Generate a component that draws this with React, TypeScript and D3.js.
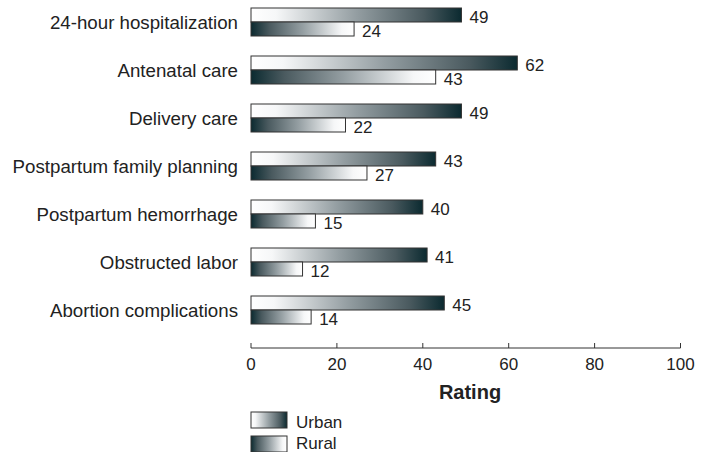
import React from "react";
import * as d3 from "d3";

const categories = [
  "24-hour hospitalization",
  "Antenatal care",
  "Delivery care",
  "Postpartum family planning",
  "Postpartum hemorrhage",
  "Obstructed labor",
  "Abortion complications",
];
const urbanValues = [49, 62, 49, 43, 40, 41, 45];
const ruralValues = [24, 43, 22, 27, 15, 12, 14];
const seriesNames = ["Urban", "Rural"];
const xTicks = [0, 20, 40, 60, 80, 100];
const axisTitle = "Rating";

const FONT = "'Liberation Sans', Arial, Helvetica, sans-serif";
const DARK = "#0b2a30";
const TEXT = "#222";

export default function App() {
  const W = 705;
  const H = 452;
  const x = d3.scaleLinear().domain([0, 100]).range([251, 680.5]);
  const y = d3
    .scaleBand<string>()
    .domain(categories)
    .range([8, 324])
    .paddingInner(20 / 48)
    .paddingOuter(0);
  const inner = d3.scaleBand<string>().domain(seriesNames).range([0, y.bandwidth()]);
  const axisY = 348;

  const series = [
    { name: "Urban", values: urbanValues, grad: "gradUrban" },
    { name: "Rural", values: ruralValues, grad: "gradRural" },
  ];

  return (
    <svg
      width={W}
      height={H}
      style={{ position: "absolute", left: 0, top: 0, background: "#fff" }}
      fontFamily={FONT}
    >
      <defs>
        <linearGradient id="gradUrban" x1="0" x2="1" y1="0" y2="0">
          <stop offset="0" stopColor="#ffffff" />
          <stop offset="0.12" stopColor="#f6f7f8" />
          <stop offset="0.5" stopColor="#949ea2" />
          <stop offset="0.82" stopColor="#4a5a5f" />
          <stop offset="1" stopColor={DARK} />
        </linearGradient>
        <linearGradient id="gradRural" x1="1" x2="0" y1="0" y2="0">
          <stop offset="0" stopColor="#ffffff" />
          <stop offset="0.12" stopColor="#f6f7f8" />
          <stop offset="0.5" stopColor="#949ea2" />
          <stop offset="0.82" stopColor="#4a5a5f" />
          <stop offset="1" stopColor={DARK} />
        </linearGradient>
      </defs>

      {categories.map((c, i) => {
        const y0 = y(c)!;
        return (
          <g key={c}>
            <text
              x={238}
              y={y0 + y.bandwidth() / 2 + 6.5}
              textAnchor="end"
              fontSize={18.7}
              fill={TEXT}
            >
              {c}
            </text>
            {series.map((s) => {
              const by = y0 + inner(s.name)!;
              const v = s.values[i];
              return (
                <g key={s.name}>
                  <rect
                    x={x(0)}
                    y={by}
                    width={x(v) - x(0)}
                    height={inner.bandwidth()}
                    fill={`url(#${s.grad})`}
                    stroke="#333"
                    strokeWidth={1}
                  />
                  <text
                    x={x(v) + 8}
                    y={by + inner.bandwidth() + 0.5}
                    fontSize={17}
                    fill={TEXT}
                  >
                    {v}
                  </text>
                </g>
              );
            })}
          </g>
        );
      })}

      <g>
        <line x1={x(0)} x2={x(100)} y1={axisY} y2={axisY} stroke="#333" strokeWidth={1} />
        {xTicks.map((t) => (
          <g key={t}>
            <line x1={x(t)} x2={x(t)} y1={axisY} y2={axisY - 5} stroke="#333" strokeWidth={1} />
            <text x={x(t)} y={370} textAnchor="middle" fontSize={17} fill={TEXT}>
              {t}
            </text>
          </g>
        ))}
        <text x={470} y={399} textAnchor="middle" fontSize={20} fontWeight="bold" fill={TEXT}>
          {axisTitle}
        </text>
      </g>

      <g>
        {series.map((s, i) => (
          <g key={s.name}>
            <rect
              x={251}
              y={412 + i * 24}
              width={36}
              height={16}
              fill={`url(#${s.grad})`}
              stroke="#333"
              strokeWidth={1}
            />
            <text x={296} y={427.5 + i * 21.5} fontSize={17} fill={TEXT}>
              {s.name}
            </text>
          </g>
        ))}
      </g>
    </svg>
  );
}
